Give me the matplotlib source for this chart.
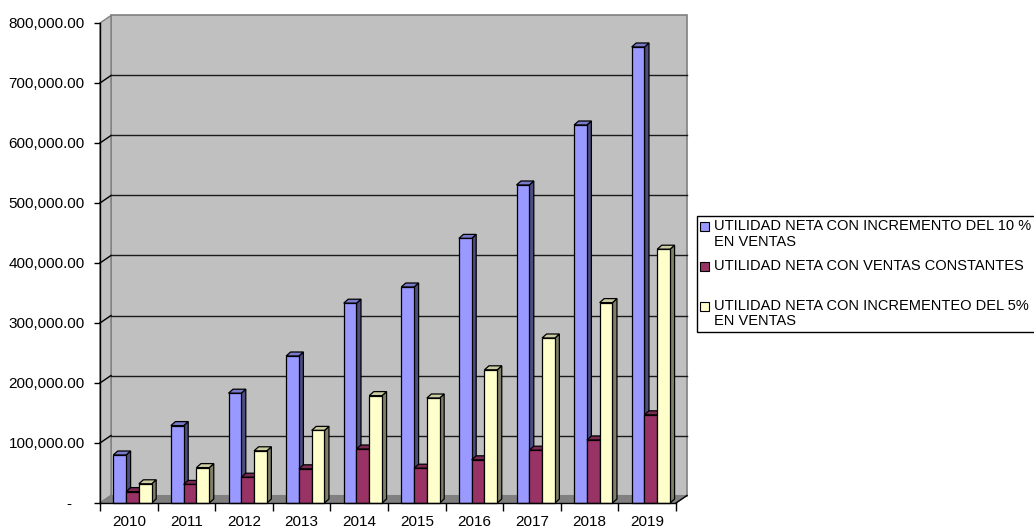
import numpy as np
import matplotlib
matplotlib.use("Agg")
import matplotlib.pyplot as plt
from matplotlib.patches import Rectangle

plt.rcParams['font.family'] = ['Liberation Sans', 'DejaVu Sans']
plt.rcParams['font.size'] = 11

years = ['2010', '2011', '2012', '2013', '2014', '2015', '2016', '2017', '2018', '2019']
inc_10 = [80000, 129000, 183000, 245000, 333000, 360000, 441000, 530000, 630000, 760000]
constantes = [19000, 31000, 43000, 57000, 90000, 58000, 72000, 88000, 105000, 147000]
inc_5 = [32000, 59000, 87000, 121000, 179000, 175000, 222000, 275000, 334000, 423000]

series_labels = [
    'UTILIDAD NETA CON INCREMENTO DEL 10 %\nEN VENTAS',
    'UTILIDAD NETA CON VENTAS CONSTANTES\n ',
    'UTILIDAD NETA CON INCREMENTEO DEL 5%\nEN VENTAS',
]
series = [inc_10, constantes, inc_5]
# front, side, top shades for each series
face_cols = ['#9999FF', '#993366', '#FFFFCC']
side_cols = ['#4D4D80', '#4D1A33', '#80806A']
top_cols = ['#7A7ACC', '#7A2952', '#CCCCA3']

W, H = 1034, 529
fig = plt.figure(figsize=(W / 100, H / 100), dpi=100)
ax = fig.add_axes([100 / W, (H - 503) / H, 576 / W, 480 / H])

YMAX = 800000
ax.set_xlim(-0.5, 9.5)
ax.set_ylim(0, YMAX)
ax.patch.set_visible(False)

# pixel -> data scale for the fake depth
px_x = 10 / 576
px_y = YMAX / 480
wdx, wdy = 11 * px_x, 7.5 * px_y      # walls
bdx, bdy = 4.5 * px_x, 4 * px_y       # bars

x0, x1 = -0.5, 9.5
# back wall
ax.fill([x0 + wdx, x1 + wdx, x1 + wdx, x0 + wdx],
        [wdy, wdy, YMAX + wdy, YMAX + wdy],
        facecolor='#C0C0C0', edgecolor='#808080', lw=1.2, zorder=0, clip_on=False)
# side wall
ax.fill([x0, x0 + wdx, x0 + wdx, x0], [0, wdy, YMAX + wdy, YMAX],
        facecolor='#C0C0C0', edgecolor='#808080', lw=1, zorder=0.5, clip_on=False)
# floor
ax.fill([x0, x1, x1 + wdx, x0 + wdx], [0, 0, wdy, wdy],
        facecolor='#808080', edgecolor='#808080', lw=0.8, zorder=0.6, clip_on=False)
ax.plot([x1, x1 + wdx], [0, wdy], color='black', lw=1, zorder=0.7, clip_on=False)

# gridlines on the back wall and the side wall
for v in range(100000, YMAX, 100000):
    ax.plot([x0 + wdx, x1 + wdx], [v + wdy, v + wdy], color='#1a1a1a', lw=1, zorder=0.8, clip_on=False)
    ax.plot([x0, x0 + wdx], [v, v + wdy], color='black', lw=1, zorder=0.8, clip_on=False)
ax.plot([x0, x0 + wdx], [0, wdy], color='#808080', lw=1, zorder=0.8, clip_on=False)

bw = 0.222
offsets = [0.064 - bw, 0.064, 0.064 + bw]
idx = np.arange(len(years))

z = 1
for gi in idx:
    for si in range(3):
        v = series[si][gi]
        xc = gi + offsets[si]
        xl, xr = xc - bw / 2, xc + bw / 2
        ax.fill([xr, xr + bdx, xr + bdx, xr], [0, bdy, v + bdy, v],
                facecolor=side_cols[si], edgecolor='black', lw=0.9, zorder=z, clip_on=False)
        ax.fill([xl, xl + bdx, xr + bdx, xr], [v, v + bdy, v + bdy, v],
                facecolor=top_cols[si], edgecolor='black', lw=0.9, zorder=z, clip_on=False)
        ax.bar(xc, v, width=bw, color=face_cols[si], edgecolor='black', lw=0.9,
               zorder=z + 0.5, clip_on=False)
        z += 1

for s in ['top', 'right']:
    ax.spines[s].set_visible(False)
for s in ['left', 'bottom']:
    ax.spines[s].set_color('black')
    ax.spines[s].set_linewidth(1)
    ax.spines[s].set_zorder(100)

yt = np.arange(0, YMAX + 1, 100000)
ax.set_yticks(yt)
ax.set_yticklabels(['-   ' if t == 0 else f'{t:,.2f}' for t in yt])
ax.tick_params(axis='y', direction='out', length=4.5, width=1, pad=6.5, colors='black')

ax.set_xticks(idx)
ax.set_xticklabels(years)
ax.set_xticks(np.arange(-0.5, 10, 1), minor=True)
ax.tick_params(axis='x', which='major', length=0, pad=8.5)
ax.tick_params(axis='x', which='minor', direction='out', length=5.5, width=1, color='black')


def fx(px):
    return px / W


def fy(py):
    return 1 - py / H


# legend box
fig.patches.append(Rectangle((fx(697), fy(332)), fx(1040) - fx(697), (332 - 216) / H,
                             transform=fig.transFigure, facecolor='white',
                             edgecolor='black', lw=1, zorder=5))
line_y = [226.5, 266, 306]
for si, lab in enumerate(series_labels):
    yc = line_y[si]
    fig.patches.append(Rectangle((fx(700), fy(yc + 4.5)), 9 / W, 9 / H,
                                 transform=fig.transFigure, facecolor=face_cols[si],
                                 edgecolor='black', lw=0.8, zorder=6))
    fig.text(fx(714), fy(yc - 7.5), lab, ha='left', va='top', fontsize=10.5,
             linespacing=1.15, zorder=7)

fig.savefig('out.png', dpi=100)
